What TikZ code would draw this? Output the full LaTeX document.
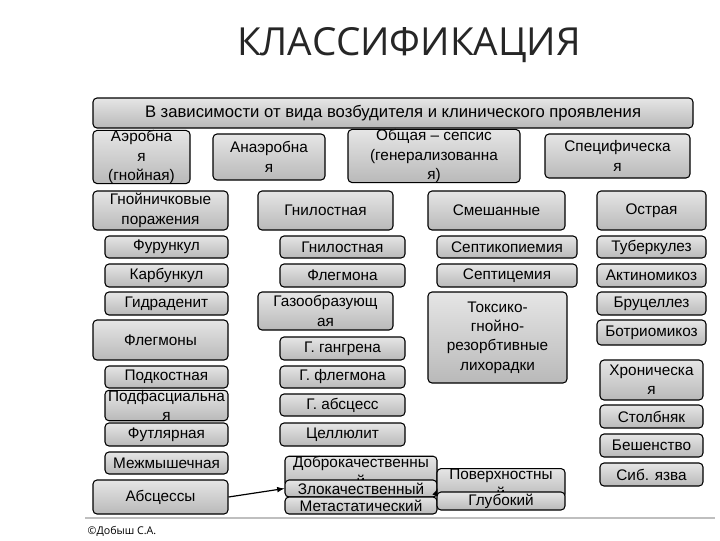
\documentclass[tikz,border=0pt]{standalone}
\usepackage{fontspec}
\setmainfont{Liberation Sans}
\newfontfamily\titlefont{Open Sans}
\tikzset{
  box/.style={draw=black,line width=0.8pt,rounded corners=3pt,top color=gray!20,bottom color=gray!55,
    inner sep=0pt,align=center,font=\fontsize{11.5}{14.5}\selectfont},
  arr/.style={->,>=latex,line width=0.9pt}
}
\newcommand\bx[6]{\node[box,minimum width={(#4-#2)*0.75pt},minimum height={(#5-#3)*0.75pt}] (#1) at ({(#2+#4)/2},{(#3+#5)/2}) {#6};}
\begin{document}
\begin{tikzpicture}[x=0.75pt,y=-0.75pt]
\useasboundingbox[fill=white] (0,0) rectangle (720,540);
\node[font=\titlefont\fontsize{29}{32}\selectfont,text=black!85] (title) at (409,45) {КЛАССИФИКАЦИЯ};
\bx{hdr}{93}{98}{693}{128}{\fontsize{12.5}{13}\selectfont В зависимости от вида возбудителя и клинического проявления}
\bx{aer}{93}{134}{190}{180}{Аэробна\\я\\(гнойная)}
\bx{anaer}{213}{134}{325}{180}{Анаэробна\\я}
\bx{obsh}{348}{134}{520}{178}{Общая – сепсис\\(генерализованна\\я)}
\bx{spec}{545}{134}{690}{178}{Специфическа\\я}
\bx{gnoin}{93}{191}{228}{230}{Гнойничковые\\поражения}
\bx{gnil}{258}{191}{393}{230}{Гнилостная}
\bx{smesh}{428}{191}{565}{230}{Смешанные}
\bx{ostr}{597}{191}{706}{230}{Острая}
% column 1
\bx{fur}{105}{236}{228}{258}{Фурункул}
\bx{karb}{105}{264}{228}{287}{Карбункул}
\bx{gidr}{105}{292}{228}{315}{Гидраденит}
\bx{flegm}{93}{320}{228}{360}{Флегмоны}
\bx{podk}{105}{366}{228}{388}{Подкостная}
\bx{podf}{105}{393}{228}{418}{Подфасциальна\\я}
\bx{futl}{105}{423}{228}{446}{Футлярная}
\bx{mezh}{105}{452}{228}{474}{Межмышечная}
\bx{absc}{93}{480}{228}{514}{Абсцессы}
% column 2
\bx{gnil2}{280}{236}{405}{258}{Гнилостная}
\bx{flegm2}{280}{264}{405}{287}{Флегмона}
\bx{gaz}{258}{292}{393}{330}{Газообразующ\\ая}
\bx{ggang}{280}{337}{405}{360}{Г. гангрена}
\bx{gfleg}{280}{366}{405}{388}{Г. флегмона}
\bx{gabs}{280}{394}{405}{416}{Г. абсцесс}
\bx{cell}{280}{423}{405}{446}{Целлюлит}
\bx{dobr}{285}{463}{437}{480}{Доброкачественны\\й}
\bx{zlok}{285}{480}{437}{497}{Злокачественный}
\bx{meta}{285}{497}{437}{514}{Метастатический}
% column 3
\bx{sept}{437}{236}{577}{258}{Септикопиемия}
\bx{septc}{437}{264}{577}{287}{Септицемия}
\bx{toks}{428}{292}{567}{383}{Токсико-\\гнойно-\\резорбтивные\\лихорадки}
\bx{pov}{437}{475}{565}{492}{Поверхностны\\й}
\bx{glub}{437}{492}{565}{510}{Глубокий}
% column 4
\bx{tub}{597}{236}{706}{258}{Туберкулез}
\bx{akt}{597}{264}{706}{287}{Актиномикоз}
\bx{bruc}{597}{292}{706}{315}{Бруцеллез}
\bx{botr}{597}{320}{706}{345}{Ботриомикоз}
\bx{hron}{600}{360}{703}{400}{Хроническа\\я}
\bx{stol}{600}{405}{703}{428}{Столбняк}
\bx{besh}{600}{434}{703}{457}{Бешенство}
\bx{sib}{600}{463}{703}{486}{Сиб. язва}
\draw[arr] (absc.east) -- (zlok.west);
\draw[arr] (glub.north west) -- (zlok.east);
\draw[gray!50,line width=1.5pt] (85,518) -- (715,518);
\node[anchor=west,font=\titlefont\fontsize{8}{9}\selectfont] (copy) at (83,531) {©Добыш С.А.};
\end{tikzpicture}
\end{document}
